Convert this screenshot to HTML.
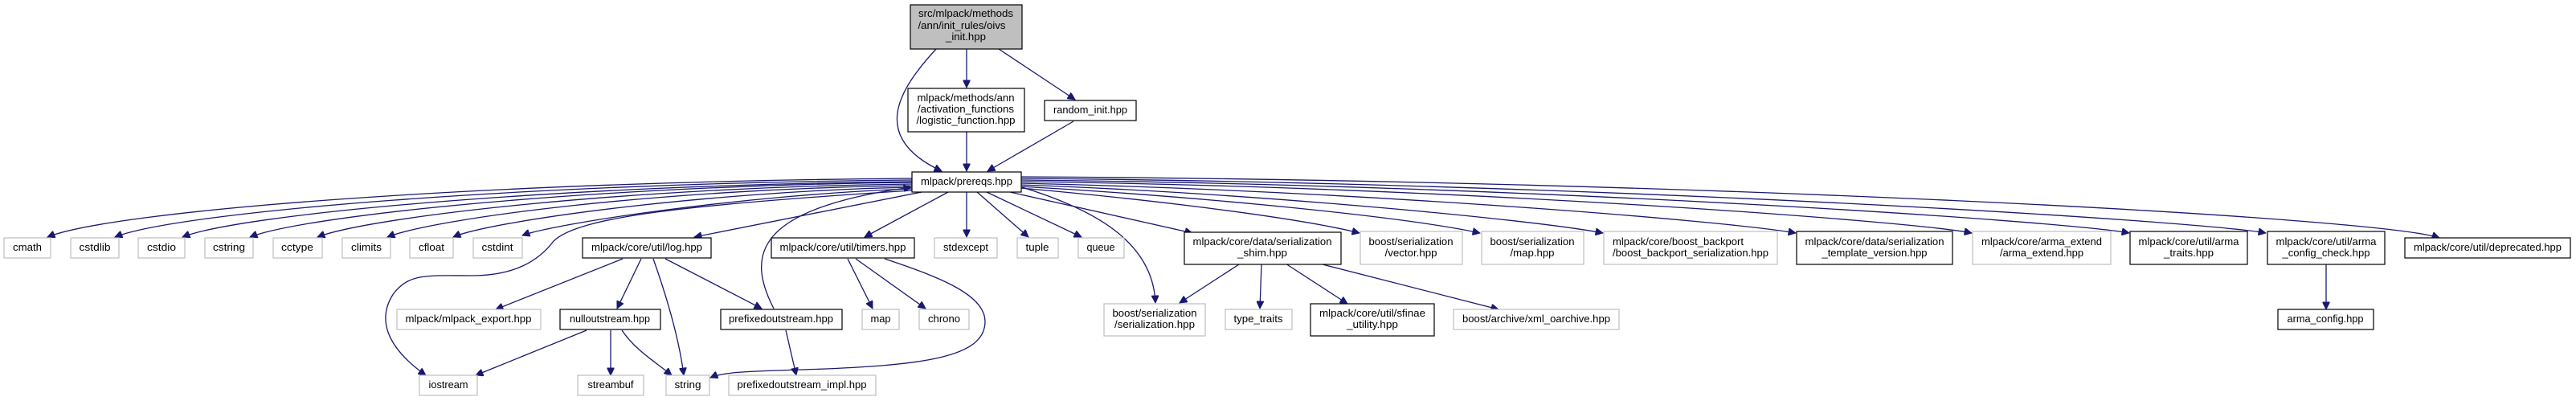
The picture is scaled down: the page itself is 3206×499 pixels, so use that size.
<!DOCTYPE html>
<html><head><meta charset="utf-8"><style>
html,body{margin:0;padding:0;background:#fff;}
svg{display:block;}
text{font-family:"Liberation Sans",Arial,sans-serif;font-size:13px;fill:#000;}
.b{fill:#fff;stroke:#000;stroke-width:1.2;}
.g{fill:#fff;stroke:#bfbfbf;stroke-width:1.2;}
.r{fill:#bfbfbf;stroke:#000;stroke-width:1.2;}
.e{fill:none;stroke:#191970;stroke-width:1.3;marker-end:url(#a);}
</style></head><body>
<svg width="3206" height="499" viewBox="0 0 3206 499" xmlns="http://www.w3.org/2000/svg">
<defs><marker id="a" viewBox="0 0 10 10" refX="10" refY="5" markerUnits="userSpaceOnUse" markerWidth="11" markerHeight="9" orient="auto"><path d="M0,0 L10,5 L0,10 z" fill="#191970" stroke="#191970"/></marker></defs>

<!-- edges -->
<g>
<path class="e" d="M1165,61 C1120,110 1080,170 1172,213"/>
<path class="e" d="M1203,61 L1203,109"/>
<path class="e" d="M1243,61 L1338,124"/>
<path class="e" d="M1203,164 L1203,213"/>
<path class="e" d="M1336,151 L1229,213"/>

<path class="e" d="M1135,222 C600,226 140,262 59,295"/>
<path class="e" d="M1135,224 C650,228 220,264 143,295"/>
<path class="e" d="M1135,226 C700,230 300,266 227,295"/>
<path class="e" d="M1135,227 C740,231 380,268 311,295"/>
<path class="e" d="M1135,229 C780,233 460,270 395,295"/>
<path class="e" d="M1135,231 C820,235 540,272 482,295"/>
<path class="e" d="M1135,233 C880,238 610,275 564,295"/>
<path class="e" d="M1135,235 C930,242 690,278 650,293"/>
<path class="e" d="M1135,237 C850,255 720,270 689,300 C670,325 640,343 587,343 C530,343 510,340 490,365 C470,395 478,430 530,467"/>
<path class="e" d="M1147,239 L864,295"/>

<path class="e" d="M775,322 L617,385"/>
<path class="e" d="M798,322 L768,384"/>
<path class="e" d="M730,411 L592,467"/>
<path class="e" d="M760,411 L760,467"/>
<path class="e" d="M774,411 C790,435 815,450 836,467"/>
<path class="e" d="M813,322 C830,370 845,420 851,467"/>
<path class="e" d="M828,322 L948,384"/>
<path class="e" d="M963,384 C930,320 935,260 1134,233"/>
<path class="e" d="M978,411 L991,467"/>

<path class="e" d="M1180,239 L1076,295"/>
<path class="e" d="M1203,239 L1203,295"/>
<path class="e" d="M1216,239 L1280,295"/>
<path class="e" d="M1228,239 L1346,295"/>
<path class="e" d="M1257,239 L1484,290"/>
<path class="e" d="M1272,233 C1360,260 1435,300 1438,377"/>

<path class="e" d="M1055,322 L1086,384"/>
<path class="e" d="M1065,322 L1152,384"/>
<path class="e" d="M1101,322 C1170,345 1226,367 1226,400 C1226,445 1150,455 1000,460 C930,462 900,463 884,470"/>

<path class="e" d="M1542,329 L1468,377"/>
<path class="e" d="M1570,329 L1568,384"/>
<path class="e" d="M1600,328 L1677,378"/>
<path class="e" d="M1646,329 L1865,385"/>

<path class="e" d="M1270,234 C1450,250 1620,272 1692,290"/>
<path class="e" d="M1270,232 C1500,245 1750,270 1842,290"/>
<path class="e" d="M1270,230 C1550,240 1900,272 1995,290"/>
<path class="e" d="M1270,228 C1700,238 2150,275 2235,290"/>
<path class="e" d="M1270,226 C1800,232 2380,275 2454,290"/>
<path class="e" d="M1270,224 C1900,230 2570,275 2650,290"/>
<path class="e" d="M1270,222 C2000,228 2740,275 2820,290"/>
<path class="e" d="M1270,220 C2100,224 2960,270 3036,296"/>
<path class="e" d="M2895,329 L2895,385"/>
</g>

<!-- nodes -->
<g text-anchor="middle" >
<rect class="r" x="1133" y="6" width="139" height="55"/>
<text x="1202" y="21" textLength="118" lengthAdjust="spacingAndGlyphs">src/mlpack/methods</text>
<text x="1197" y="36" textLength="109" lengthAdjust="spacingAndGlyphs">/ann/init_rules/oivs</text>
<text x="1202" y="50" textLength="50" lengthAdjust="spacingAndGlyphs">_init.hpp</text>

<rect class="b" x="1130" y="110" width="145" height="54"/>
<text x="1202" y="126" textLength="121" lengthAdjust="spacingAndGlyphs">mlpack/methods/ann</text>
<text x="1202" y="140" textLength="120" lengthAdjust="spacingAndGlyphs">/activation_functions</text>
<text x="1202" y="154" textLength="123" lengthAdjust="spacingAndGlyphs">/logistic_function.hpp</text>

<rect class="b" x="1300" y="125" width="114" height="25"/>
<text x="1357" y="141" textLength="92" lengthAdjust="spacingAndGlyphs">random_init.hpp</text>

<rect class="b" x="1135" y="214" width="136" height="25"/>
<text x="1203" y="230" textLength="114" lengthAdjust="spacingAndGlyphs">mlpack/prereqs.hpp</text>

<rect class="g" x="5" y="296" width="58" height="25"/><text x="34" y="312" textLength="36" lengthAdjust="spacingAndGlyphs">cmath</text>
<rect class="g" x="88" y="296" width="60" height="25"/><text x="118" y="312" textLength="39" lengthAdjust="spacingAndGlyphs">cstdlib</text>
<rect class="g" x="172" y="296" width="58" height="25"/><text x="201" y="312" textLength="36" lengthAdjust="spacingAndGlyphs">cstdio</text>
<rect class="g" x="255" y="296" width="60" height="25"/><text x="285" y="312" textLength="40" lengthAdjust="spacingAndGlyphs">cstring</text>
<rect class="g" x="340" y="296" width="61" height="25"/><text x="370" y="312" textLength="40" lengthAdjust="spacingAndGlyphs">cctype</text>
<rect class="g" x="426" y="296" width="60" height="25"/><text x="456" y="312" textLength="38" lengthAdjust="spacingAndGlyphs">climits</text>
<rect class="g" x="510" y="296" width="54" height="25"/><text x="537" y="312" textLength="32" lengthAdjust="spacingAndGlyphs">cfloat</text>
<rect class="g" x="589" y="296" width="61" height="25"/><text x="619" y="312" textLength="39" lengthAdjust="spacingAndGlyphs">cstdint</text>

<rect class="b" x="725" y="296" width="160" height="25"/><text x="805" y="312" textLength="138" lengthAdjust="spacingAndGlyphs">mlpack/core/util/log.hpp</text>
<rect class="b" x="960" y="296" width="178" height="25"/><text x="1049" y="312" textLength="157" lengthAdjust="spacingAndGlyphs">mlpack/core/util/timers.hpp</text>
<rect class="g" x="1163" y="296" width="78" height="25"/><text x="1202" y="312" textLength="56" lengthAdjust="spacingAndGlyphs">stdexcept</text>
<rect class="g" x="1266" y="296" width="51" height="25"/><text x="1291" y="312" textLength="29" lengthAdjust="spacingAndGlyphs">tuple</text>
<rect class="g" x="1342" y="296" width="57" height="25"/><text x="1370" y="312" textLength="35" lengthAdjust="spacingAndGlyphs">queue</text>

<rect class="b" x="1474" y="289" width="195" height="40"/>
<text x="1571" y="305" textLength="173" lengthAdjust="spacingAndGlyphs">mlpack/core/data/serialization</text>
<text x="1571" y="319" textLength="62" lengthAdjust="spacingAndGlyphs">_shim.hpp</text>

<rect class="g" x="1693" y="288" width="127" height="41"/>
<text x="1756" y="305" textLength="105" lengthAdjust="spacingAndGlyphs">boost/serialization</text>
<text x="1756" y="319" textLength="65" lengthAdjust="spacingAndGlyphs">/vector.hpp</text>

<rect class="g" x="1844" y="288" width="127" height="41"/>
<text x="1907" y="305" textLength="105" lengthAdjust="spacingAndGlyphs">boost/serialization</text>
<text x="1907" y="319" textLength="55" lengthAdjust="spacingAndGlyphs">/map.hpp</text>

<rect class="g" x="1996" y="288" width="216" height="41"/>
<text x="2007" y="305" text-anchor="start" textLength="163" lengthAdjust="spacingAndGlyphs">mlpack/core/boost_backport</text>
<text x="2007" y="319" text-anchor="start" textLength="194" lengthAdjust="spacingAndGlyphs">/boost_backport_serialization.hpp</text>

<rect class="b" x="2236" y="288" width="194" height="41"/>
<text x="2333" y="305" textLength="173" lengthAdjust="spacingAndGlyphs">mlpack/core/data/serialization</text>
<text x="2333" y="319" textLength="131" lengthAdjust="spacingAndGlyphs">_template_version.hpp</text>

<rect class="g" x="2455" y="288" width="172" height="41"/>
<text x="2541" y="305" textLength="150" lengthAdjust="spacingAndGlyphs">mlpack/core/arma_extend</text>
<text x="2541" y="319" textLength="104" lengthAdjust="spacingAndGlyphs">/arma_extend.hpp</text>

<rect class="b" x="2651" y="288" width="146" height="41"/>
<text x="2724" y="305" textLength="125" lengthAdjust="spacingAndGlyphs">mlpack/core/util/arma</text>
<text x="2724" y="319" textLength="62" lengthAdjust="spacingAndGlyphs">_traits.hpp</text>

<rect class="b" x="2822" y="288" width="146" height="41"/>
<text x="2895" y="305" textLength="125" lengthAdjust="spacingAndGlyphs">mlpack/core/util/arma</text>
<text x="2895" y="319" textLength="109" lengthAdjust="spacingAndGlyphs">_config_check.hpp</text>

<rect class="b" x="2993" y="296" width="206" height="25"/><text x="3096" y="312" textLength="184" lengthAdjust="spacingAndGlyphs">mlpack/core/util/deprecated.hpp</text>

<rect class="g" x="494" y="385" width="179" height="25"/><text x="583" y="401" textLength="157" lengthAdjust="spacingAndGlyphs">mlpack/mlpack_export.hpp</text>
<rect class="b" x="697" y="385" width="125" height="25"/><text x="759" y="401" textLength="100" lengthAdjust="spacingAndGlyphs">nulloutstream.hpp</text>
<rect class="b" x="897" y="385" width="151" height="25"/><text x="972" y="401" textLength="130" lengthAdjust="spacingAndGlyphs">prefixedoutstream.hpp</text>
<rect class="g" x="1073" y="385" width="46" height="25"/><text x="1096" y="401" textLength="25" lengthAdjust="spacingAndGlyphs">map</text>
<rect class="g" x="1144" y="385" width="62" height="25"/><text x="1175" y="401" textLength="40" lengthAdjust="spacingAndGlyphs">chrono</text>

<rect class="g" x="1374" y="378" width="126" height="40"/>
<text x="1437" y="394" textLength="105" lengthAdjust="spacingAndGlyphs">boost/serialization</text>
<text x="1437" y="408" textLength="100" lengthAdjust="spacingAndGlyphs">/serialization.hpp</text>

<rect class="g" x="1525" y="385" width="83" height="25"/><text x="1566" y="401" textLength="61" lengthAdjust="spacingAndGlyphs">type_traits</text>

<rect class="b" x="1631" y="378" width="154" height="40"/>
<text x="1708" y="394" textLength="132" lengthAdjust="spacingAndGlyphs">mlpack/core/util/sfinae</text>
<text x="1708" y="408" textLength="64" lengthAdjust="spacingAndGlyphs">_utility.hpp</text>

<rect class="g" x="1809" y="385" width="206" height="25"/><text x="1912" y="401" textLength="184" lengthAdjust="spacingAndGlyphs">boost/archive/xml_oarchive.hpp</text>
<rect class="b" x="2835" y="385" width="119" height="25"/><text x="2894" y="401" textLength="95" lengthAdjust="spacingAndGlyphs">arma_config.hpp</text>

<rect class="g" x="522" y="467" width="72" height="25"/><text x="558" y="483" textLength="49" lengthAdjust="spacingAndGlyphs">iostream</text>
<rect class="g" x="719" y="467" width="82" height="25"/><text x="760" y="483" textLength="57" lengthAdjust="spacingAndGlyphs">streambuf</text>
<rect class="g" x="829" y="467" width="54" height="25"/><text x="856" y="483" textLength="33" lengthAdjust="spacingAndGlyphs">string</text>
<rect class="g" x="907" y="467" width="183" height="25"/><text x="998" y="483" textLength="161" lengthAdjust="spacingAndGlyphs">prefixedoutstream_impl.hpp</text>
</g>
</svg>
</body></html>
